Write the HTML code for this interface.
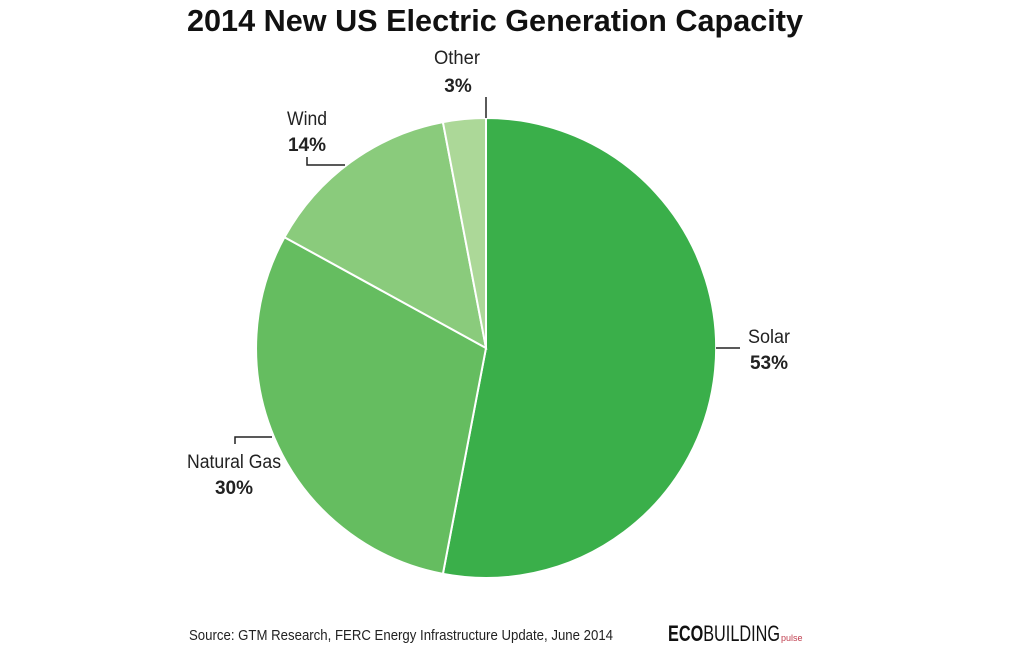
<!DOCTYPE html>
<html><head><style>
body{margin:0;background:#fff;width:1024px;height:648px;overflow:hidden;}
svg{display:block}
text{font-family:"Liberation Sans",sans-serif;}
</style></head><body>
<svg width="1024" height="648" viewBox="0 0 1024 648">
<text x="495" y="31" text-anchor="middle" font-size="31" font-weight="bold" fill="#111" textLength="616" lengthAdjust="spacingAndGlyphs">2014 New US Electric Generation Capacity</text>
<g stroke="#fff" stroke-width="2">
<path d="M486,348 L486,118 A230,230 0 1 1 442.9,573.9 Z" fill="#3aaf4a"/>
<path d="M486,348 L442.9,573.9 A230,230 0 0 1 284.5,237.2 Z" fill="#65bd60"/>
<path d="M486,348 L284.5,237.2 A230,230 0 0 1 442.9,122.1 Z" fill="#8acb7c"/>
<path d="M486,348 L442.9,122.1 A230,230 0 0 1 486,118 Z" fill="#acd898"/>
</g>
<g stroke="#222" stroke-width="1.5" fill="none">
<path d="M486,97 V118"/>
<path d="M307,157 V165 H345"/>
<path d="M716,348 H740"/>
<path d="M235,444 V437 H272"/>
</g>
<g font-size="19" fill="#222">
<text x="457" y="64" text-anchor="middle" textLength="46" lengthAdjust="spacingAndGlyphs">Other</text>
<text x="458" y="92" text-anchor="middle" font-weight="bold">3%</text>
<text x="307" y="125" text-anchor="middle" textLength="40" lengthAdjust="spacingAndGlyphs">Wind</text>
<text x="307" y="151" text-anchor="middle" font-weight="bold">14%</text>
<text x="769" y="343" text-anchor="middle" textLength="42" lengthAdjust="spacingAndGlyphs">Solar</text>
<text x="769" y="369" text-anchor="middle" font-weight="bold">53%</text>
<text x="234" y="468" text-anchor="middle" textLength="94" lengthAdjust="spacingAndGlyphs">Natural Gas</text>
<text x="234" y="494" text-anchor="middle" font-weight="bold">30%</text>
</g>
<text x="189" y="640" font-size="15" fill="#222" textLength="424" lengthAdjust="spacingAndGlyphs">Source: GTM Research, FERC Energy Infrastructure Update, June 2014</text>
<text x="668" y="641" font-size="22" fill="#111" textLength="112" lengthAdjust="spacingAndGlyphs"><tspan font-weight="bold">ECO</tspan>BUILDING</text>
<text x="781" y="641" font-size="9" fill="#c04050">pulse</text>
</svg>
</body></html>
